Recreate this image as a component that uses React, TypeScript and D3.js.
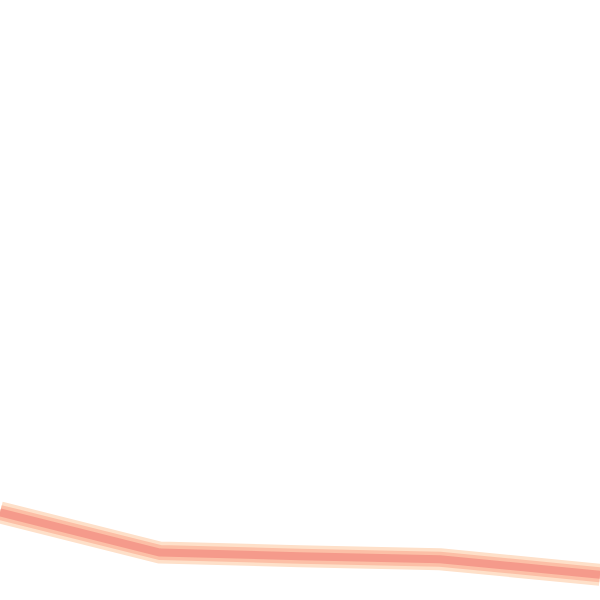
import { useEffect, useRef } from "react";
import * as d3 from "d3";

// positions along the x axis (arbitrary units, the visible window is 0..6)
const xValues = [0, 1.6, 3, 4.4, 6];
// line values (y axis 0..100, bottom to top)
const yValues = [14.6, 7.9, 7.3, 6.8, 4.2];

// layered strokes: a soft outer glow, a middle band and the core
const layers = [
  { color: "#fee0c9", width: 22 },
  { color: "#fcbfa6", width: 15 },
  { color: "#f59a8b", width: 8 },
];

const width = 600;
const height = 600;

export default function App() {
  const svgRef = useRef<SVGSVGElement>(null);

  useEffect(() => {
    const svg = d3.select(svgRef.current);
    svg.selectAll("*").remove();

    const xScale = d3.scaleLinear().domain([0, 6]).range([0, width]);
    const yScale = d3.scaleLinear().domain([0, 100]).range([height, 0]);

    const points = xValues.map((x, i) => ({ x, y: yValues[i] }));

    const line = d3
      .line<{ x: number; y: number }>()
      .x((d) => xScale(d.x))
      .y((d) => yScale(d.y));

    layers.forEach((layer) => {
      svg
        .append("path")
        .datum(points)
        .attr("fill", "none")
        .attr("stroke", layer.color)
        .attr("stroke-width", layer.width)
        .attr("stroke-linejoin", "round")
        .attr("d", line);
    });
  }, []);

  return (
    <div style={{ position: "fixed", left: 0, top: 0, width, height, background: "#fff" }}>
      <svg ref={svgRef} width={width} height={height} style={{ display: "block" }}></svg>
    </div>
  );
}
